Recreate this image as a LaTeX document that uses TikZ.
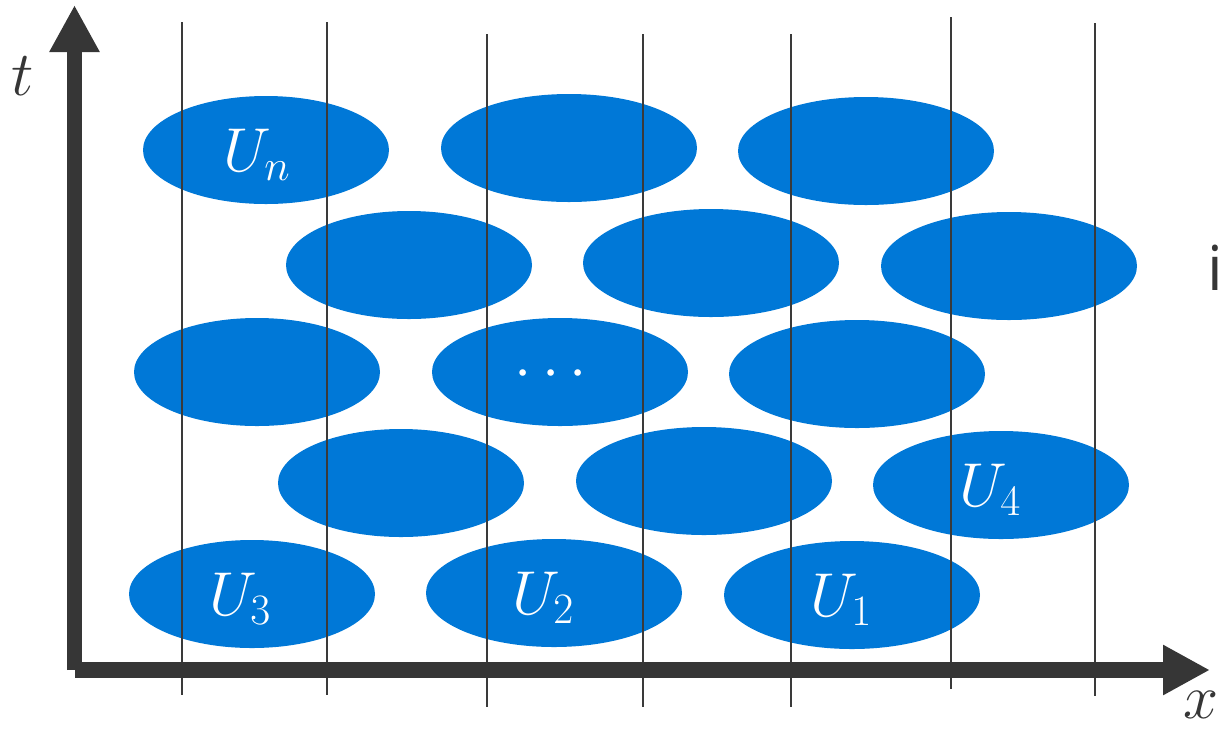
\RequirePackage{fix-cm}
\documentclass[tikz,border=0pt]{standalone}
\usepackage{fontspec}
\usetikzlibrary{arrows.meta}
\newfontfamily\uiFont{Open Sans}

\begin{document}
\begin{tikzpicture}[x=1pt, y=-1pt]
    \definecolor{axisColour}{HTML}{363636}
    \definecolor{lineColour}{HTML}{3A3A3A}
    \definecolor{fillColourU}{HTML}{0078D7}

    \def\cellHeight{54}

    \tikzset{
        axisLine/.style={draw=axisColour, line width=15.5pt, line cap=butt,
            -{Triangle[length=47pt, width=47pt]}},
        cellLabel/.style={text=white, inner sep=0pt, anchor=base west,
            font=\fontsize{62}{70}\selectfont},
        axisLabel/.style={text=axisColour, inner sep=0pt, anchor=base west,
            font=\fontsize{63}{70}\selectfont}
    }

    \useasboundingbox (0,0) rectangle (1225,729);

    % Draw cells
    \foreach \cx/\cy/\rx in {266/150/123, 569/148/128, 866/151/128,
                             409/265/123, 711/263/128, 1009/266/128,
                             257/372/123, 560/372/128, 857/374/128,
                             401/483/123, 704/481/128, 1001/485/128,
                             252/594/123, 554/593/128, 852/595/128}
        \fill[fillColourU] (\cx,\cy) ellipse [x radius=\rx pt, y radius=\cellHeight pt];

    % Draw slices
    \foreach \xv/\ytop/\ybot in {182/22/695, 327/22/695, 487/34/707, 643/34/707,
                                 791/34/707, 951/17/689, 1095/23/696}
        \draw[lineColour, line width=1.6pt] (\xv,\ytop) -- (\xv,\ybot);

    % Draw axes
    \coordinate (origin) at (74.5,670);
    \coordinate (tTip) at (74.5,5);
    \coordinate (xTip) at (1210,670);
    \draw[axisLine] (origin) -- (tTip);
    \draw[axisLine] (origin) -- (xTip);

    \node[axisLabel] (tLabel) at (11,95) {$t$};
    \node[axisLabel] (xLabel) at (1183,718) {$x$};
    \node[text=axisColour, inner sep=0pt, anchor=base west,
          font=\uiFont\fontsize{62}{70}\selectfont] (iLabel) at (1207,290) {i};

    % Label cells
    \node[cellLabel] (Un) at (223,171) {$U_n$};
    \node[cellLabel] (U3) at (209,615) {$U_3$};
    \node[cellLabel] (U2) at (512,614) {$U_2$};
    \node[cellLabel] (U1) at (810,616) {$U_1$};
    \node[cellLabel] (U4) at (959,506) {$U_4$};
    \node[cellLabel, anchor=base] (dots) at (551,388) {$\cdots$};

\end{tikzpicture}
\end{document}
